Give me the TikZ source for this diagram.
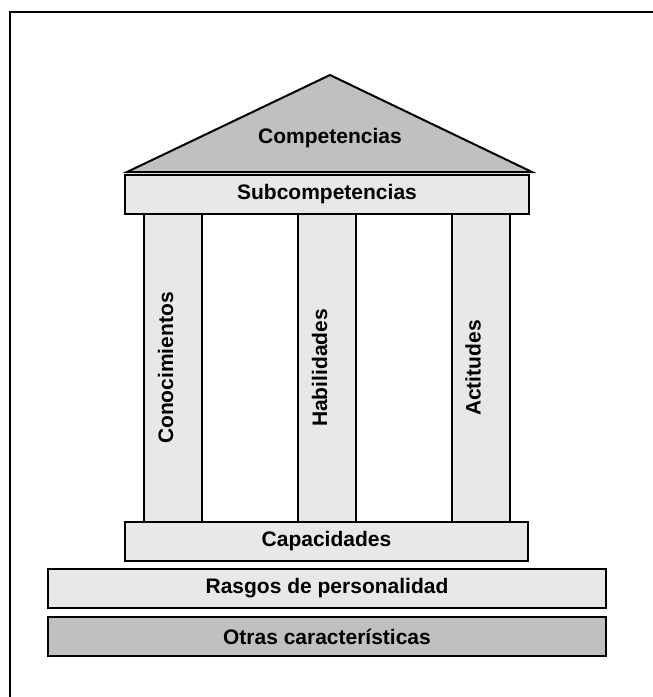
\documentclass[tikz,border=0pt]{standalone}
\usepackage{fontspec}
\setmainfont{Liberation Sans}
\usepackage{tikz}
\usetikzlibrary{positioning}
\definecolor{grisclaro}{HTML}{E8E8E8}
\definecolor{grisoscuro}{HTML}{C0C0C0}
\tikzset{
  texto/.style={font=\bfseries\fontsize{21}{24}\selectfont},
  bloque/.style={draw, line width=2pt, fill=grisclaro, minimum width=#1, minimum height=39pt, inner sep=0pt, texto},
  columna/.style={draw, line width=2pt, fill=grisclaro, minimum width=58pt, minimum height=308pt, inner sep=0pt},
  rotulo/.style={texto, rotate=90, anchor=base, inner sep=0pt}
}
\begin{document}
\begin{tikzpicture}[x=1pt, y=-1pt]
				\useasboundingbox (0,0) rectangle (653,697);
				\clip (0,0) rectangle (653,697);
				\draw[line width=2pt] (10,12) rectangle (720,760);
				% techo
				\coordinate (tl) at (127,172);
				\coordinate (tc) at (330,75);
				\coordinate (tr) at (532,172);
				\draw[line width=2pt, fill=grisoscuro] (tl) -- (tc) -- (tr) -- cycle;
				\node[texto] (comp) at (330,138) {Competencias};
				% columnas
				\node[columna] (cono) at (173,368) {};
				\node[columna] (habi) at (327,368) {};
				\node[columna] (acti) at (480.5,368) {};
				\node[rotulo] (conot) at (cono.center) {Conocimientos};
				\node[rotulo] (habit) at (habi.center) {Habilidades};
				\node[rotulo] (actit) at (acti.center) {Actitudes};
				% bloques
				\node[bloque=404pt] (subc) at (327,194.5) {Subcompetencias};
				\node[bloque=403pt] (capa) at (326.5,541.5) {Capacidades};
				\node[bloque=558pt] (rasg) at (327,588.5) {Rasgos de personalidad};
				\node[bloque=558pt, fill=grisoscuro] (otra) at (327,636.5) {Otras características};
			\end{tikzpicture}
\end{document}
